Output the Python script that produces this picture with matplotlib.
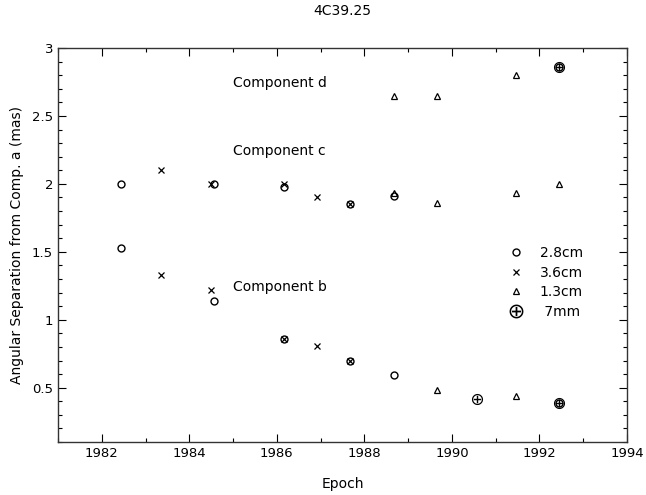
import matplotlib
matplotlib.use("Agg")
import matplotlib.pyplot as plt
from matplotlib.ticker import MultipleLocator

# Data (epoch, separation in mas)
ep_28 = [1982.44, 1982.44, 1984.56, 1984.56, 1986.16, 1986.16, 1987.67, 1987.67, 1988.68, 1988.68, 1992.45, 1992.45]
sep_28 = [2.00, 1.53, 2.00, 1.14, 1.98, 0.86, 1.85, 0.70, 1.91, 0.59, 2.86, 0.39]

ep_36 = [1983.35, 1983.35, 1984.50, 1984.50, 1986.16, 1986.16, 1986.92, 1986.92, 1987.67, 1987.67]
sep_36 = [2.10, 1.33, 2.00, 1.22, 2.00, 0.86, 1.90, 0.81, 1.85, 0.70]

ep_13 = [1988.68, 1988.68, 1989.66, 1989.66, 1989.66, 1991.46, 1991.46, 1991.46, 1992.45]
sep_13 = [2.65, 1.93, 2.65, 1.86, 0.48, 2.80, 1.93, 0.44, 2.00]

ep_7 = [1990.57, 1992.45, 1992.45]
sep_7 = [0.42, 2.86, 0.39]

labels = ["2.8cm", "3.6cm", "1.3cm", " 7mm"]
components = [("Component d", 1985.0, 2.74), ("Component c", 1985.0, 2.24), ("Component b", 1985.0, 1.24)]

plt.rcParams['font.family'] = ['DejaVu Sans']
fig = plt.figure(figsize=(6.46, 4.95), dpi=100)
ax = fig.add_axes([0.0898, 0.107, 0.8808, 0.796])

ax.plot(ep_28, sep_28, ls='none', marker='o', ms=5, mfc='none', mec='black', mew=1.0, label=labels[0])
ax.plot(ep_36, sep_36, ls='none', marker='x', ms=4, mec='black', mew=0.9, label=labels[1])
ax.plot(ep_13, sep_13, ls='none', marker='^', ms=5, mfc='none', mec='black', mew=0.9, label=labels[2])
ax.plot(ep_7, sep_7, ls='none', marker=r'$\oplus$', ms=8, mfc='black', mec='black', mew=0.0, label=labels[3])

for txt, x, y in components:
    ax.text(x, y, txt, fontsize=10, ha='left', va='center')

ax.set_xlim(1981, 1994)
ax.set_ylim(0.1, 3.0)
ax.xaxis.set_major_locator(MultipleLocator(2))
ax.xaxis.set_minor_locator(MultipleLocator(1))
ax.yaxis.set_major_locator(MultipleLocator(0.5))
ax.yaxis.set_minor_locator(MultipleLocator(0.1))
ax.set_yticks([0.5, 1, 1.5, 2, 2.5, 3])
ax.set_yticklabels(["0.5", "1", "1.5", "2", "2.5", "3"])
ax.tick_params(which='both', direction='in', top=True, right=True, labelsize=9.5, width=0.8)
ax.tick_params(which='major', length=6)
ax.tick_params(which='minor', length=3)
for s in ax.spines.values():
    s.set_linewidth(1.0)
    s.set_color('#333333')

ax.set_title("4C39.25", fontsize=10, pad=24)
ax.set_xlabel("Epoch", fontsize=10, labelpad=12)
ax.set_ylabel("Angular Separation from Comp. a (mas)", fontsize=10, labelpad=6)

leg = ax.legend(loc='upper left', bbox_to_anchor=(0.781, 0.515), frameon=False, fontsize=10,
                handletextpad=1.2, labelspacing=0.4, handlelength=1.0, borderpad=0)
leg.legend_handles[3].set_markersize(10)

fig.savefig("out.png", dpi=100)
